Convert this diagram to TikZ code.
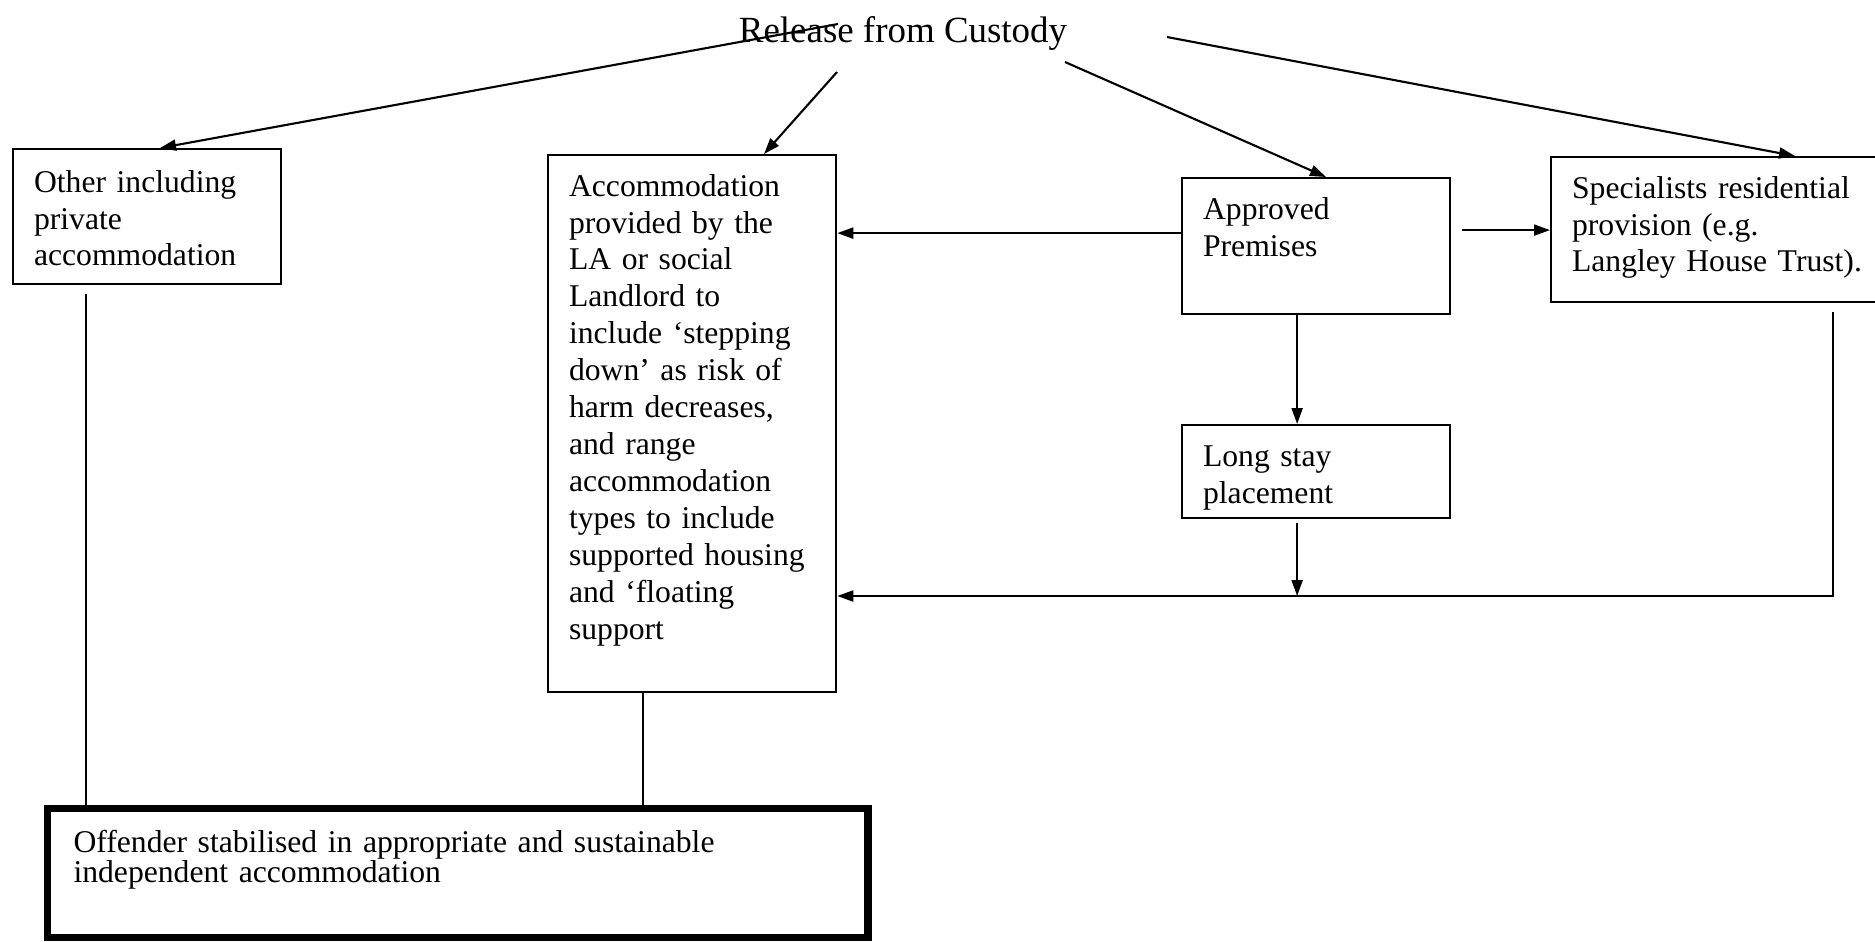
\documentclass[tikz,border=0pt]{standalone}
\usepackage{fontspec}
\setmainfont{Liberation Serif}
\usepackage{tikz}
\usetikzlibrary{calc, arrows.meta}

\begin{document}
\begin{tikzpicture}[x=0.01cm, y=-0.01cm,
    box/.style={draw, line width=0.6pt, anchor=north west, align=left, inner ysep=0pt,
      inner xsep=0.21cm, text height=0.41cm, font=\fontsize{9}{10.5}\selectfont},
    arr/.style={line width=0.6pt, -{Triangle[length=0.16cm,width=0.11cm]}},
    wire/.style={line width=0.6pt}]
  \useasboundingbox (0,0) rectangle (1875,941);
  % top label
  \node[anchor=base, inner sep=0pt, font=\fontsize{10.5}{12}\selectfont] (release) at (903,42) {Release from Custody};
  % boxes
  \node[box, text width=2.26cm, text height=0.43cm, text depth=0.92cm] (other) at (12,148)
    {Other including\\ private\\ accommodation};
  \node[box, text width=2.46cm, text depth=4.96cm] (accom) at (547,154)
    {Accommodation\\ provided by the\\ LA or social\\ Landlord to\\ include ‘stepping\\ down’ as risk of\\
     harm decreases,\\ and range\\ accommodation\\ types to include\\ supported housing\\ and ‘floating\\ support};
  \node[box, text width=2.26cm, text depth=0.95cm] (approved) at (1181,177) {Approved\\ Premises};
  \node[box, text width=2.26cm, text depth=0.52cm] (longstay) at (1181,424) {Long stay\\ placement};
  \node[box, text width=2.98cm, text depth=1.04cm] (special) at (1550,156)
    {Specialists residential\\ provision (e.g.\\ Langley House Trust).};
  \node[box, line width=2pt, inner xsep=0.26cm, text width=7.68cm, text height=0.44cm, text depth=0.85cm,
    font=\fontsize{9}{8.5}\selectfont] (offender) at (44,805)
    {Offender stabilised in appropriate and sustainable\\ independent accommodation};
  % from release
  \coordinate (s1) at (838,24);
  \coordinate (s2) at (837,72);
  \coordinate (s3) at (1065,62);
  \coordinate (s4) at (1167,37);
  \draw[arr] (s1) -- ($(other.north west)+(148,0)$);
  \draw[arr] (s2) -- ($(accom.north west)+(217,0)$);
  \draw[arr] (s3) -- ($(approved.north west)+(145,0)$);
  \draw[arr] (s4) -- ($(special.north west)+(245,0)$);
  % approved premises
  \draw[arr] ([yshift=0.13cm]approved.west) -- ([yshift=0.13cm]approved.west -| accom.east);
  \draw[arr, shorten <=3pt] ([yshift=0.16cm]approved.east) -- ([yshift=0.16cm]approved.east -| special.west);
  \draw[arr] ([xshift=-0.19cm]approved.south) -- ([xshift=-0.19cm]longstay.north);
  % return line
  \coordinate (rtop) at (1833,312);
  \coordinate (rbot) at (1833,596);
  \draw[arr, shorten <=1pt] ([xshift=-0.19cm]longstay.south) -- ([xshift=-0.19cm]longstay.south |- rbot);
  \draw[arr] (rtop) -- (rbot) -- (accom.east |- rbot);
  % down to offender
  \coordinate (odrop) at ($(other.south west)+(74,9)$);
  \coordinate (adrop) at ($(accom.south west)+(96,0)$);
  \draw[wire] (odrop) -- (odrop |- offender.north);
  \draw[wire] (adrop) -- (adrop |- offender.north);
\end{tikzpicture}
\end{document}
